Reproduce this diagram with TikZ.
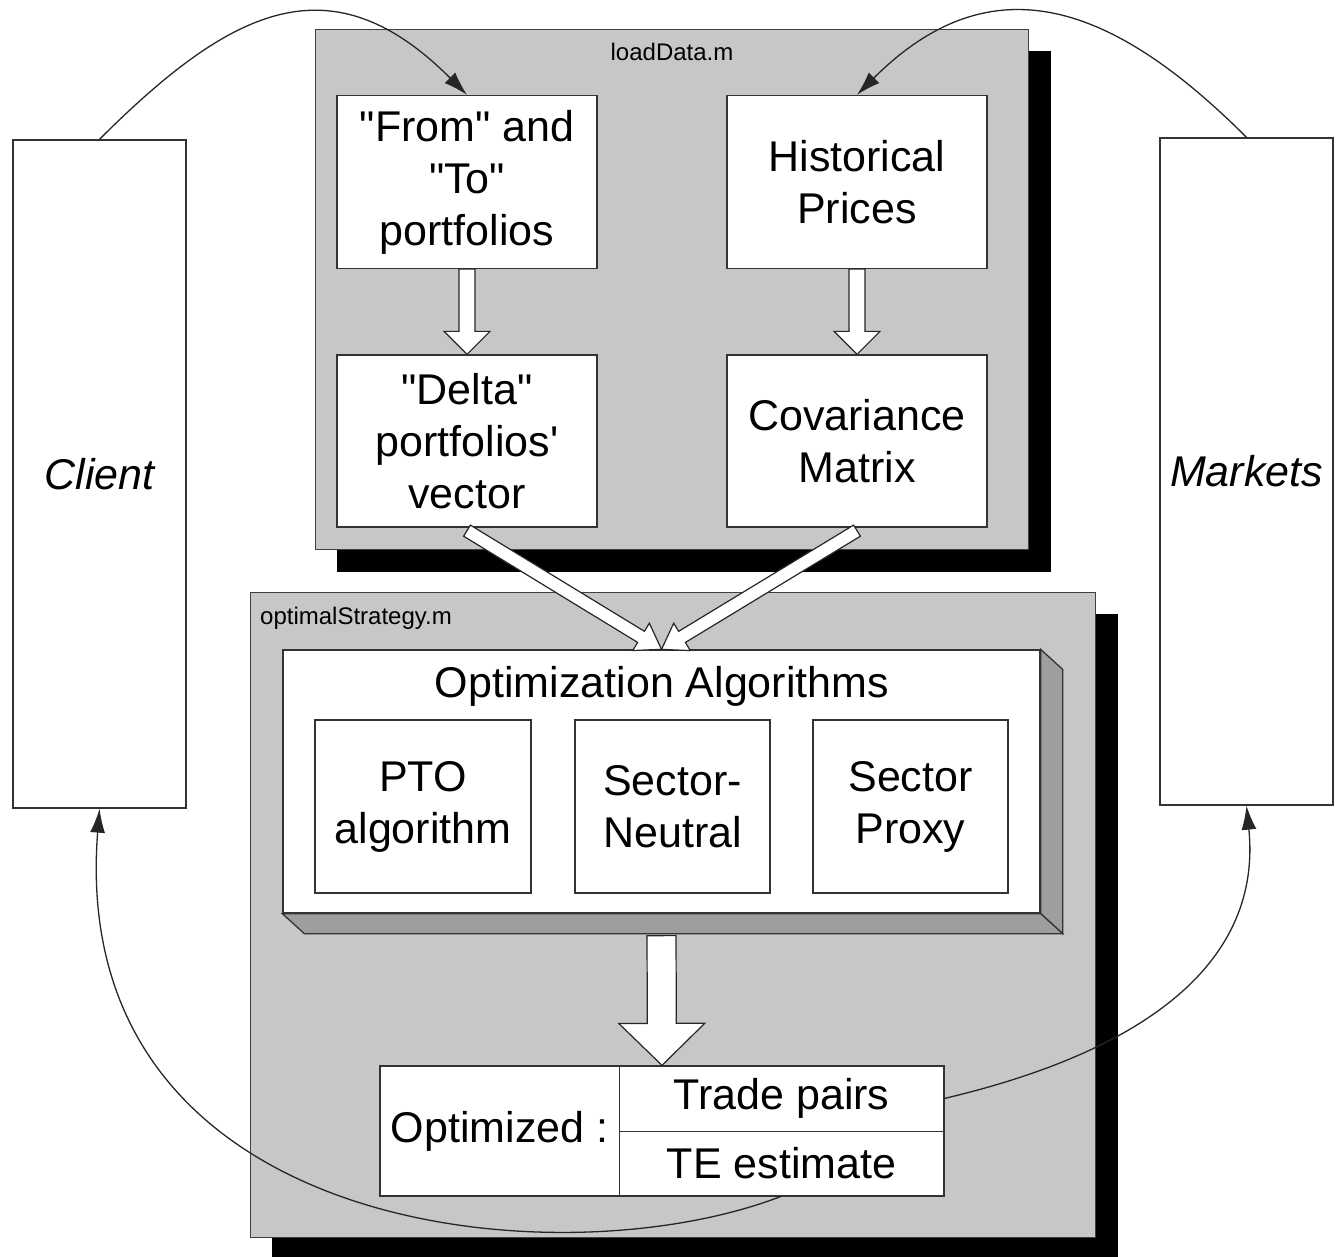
\documentclass[tikz,border=0pt]{standalone}
\usepackage{fontspec}
\newfontfamily\arialf{Liberation Sans}
\usetikzlibrary{calc,arrows.meta,backgrounds}

% white block arrow from #1 to #2: shaft half width #3, head half width #4, head length #5
\newcommand\blockarrow[5]{%
  \coordinate (ba-h) at ($(#2)!#5!(#1)$);
  \draw[barrow] ($(#1)!#3!90:(#2)$) -- ($(ba-h)!#3!90:(#2)$) -- ($(ba-h)!#4!90:(#2)$)
    -- (#2) -- ($(ba-h)!#4!-90:(#2)$) -- ($(ba-h)!#3!-90:(#2)$) -- ($(#1)!#3!-90:(#2)$) -- cycle;
}

\begin{document}
\begin{tikzpicture}[x=1pt,y=-1pt,
  panel/.style={draw=black!75, line width=1pt, fill=black!22, inner sep=0pt},
  box/.style={draw=black!80, line width=1.3pt, fill=white, inner sep=0pt, align=center,
    font=\arialf\fontsize{43}{52}\selectfont},
  txt/.style={inner sep=0pt, align=center, font=\arialf\fontsize{43}{52}\selectfont},
  small/.style={inner sep=0pt, font=\arialf\fontsize{24}{28}\selectfont},
  side/.style={draw=black!80, line width=1.3pt, fill=black!38, line join=miter},
  flow/.style={draw=black!85, line width=1.3pt, -{Latex[length=24pt,width=15pt]}},
  barrow/.style={draw=black!85, line width=1.2pt, fill=white, line join=miter},
]
\useasboundingbox (0,0) rectangle (1341,1257);

% the two script panels with their drop shadows
\node[panel, minimum width=713pt, minimum height=519pt] (load) at (671.5,289.5) {};
\node[panel, minimum width=845pt, minimum height=645pt] (strat) at (672.5,914.5) {};
\begin{scope}[on background layer]
  \fill[black] ($(load.north west)+(22,22)$) rectangle ($(load.south east)+(22,22)$);
  \fill[black] ($(strat.north west)+(22,22)$) rectangle ($(strat.south east)+(22,22)$);
\end{scope}
\node[small] (loadlbl) at (672,52) {loadData.m};
\node[small, anchor=west] (stratlbl) at (260,618) {optimalStrategy.m};

% actors
\node[box, minimum width=173pt, minimum height=668pt, font=\arialf\itshape\fontsize{43}{52}\selectfont] (client) at (99.5,474) {Client};
\node[box, minimum width=173pt, minimum height=667pt, font=\arialf\itshape\fontsize{43}{52}\selectfont] (markets) at (1246.5,471.5) {Markets};

% data loading
\node[box, minimum width=260pt, minimum height=173pt] (from) at (467,182) {"From" and\\"To"\\portfolios};
\node[box, minimum width=260pt, minimum height=173pt] (hist) at (857,182) {Historical\\Prices};
\node[box, minimum width=260pt, minimum height=172pt] (delta) at (467,441) {"Delta"\\portfolios'\\vector};
\node[box, minimum width=260pt, minimum height=172pt] (cov) at (857,441) {Covariance\\Matrix};

% optimization block (3D slab)
\node[box, minimum width=757pt, minimum height=263pt] (opt) at (661.5,781.5) {};
\draw[side] (opt.north east) -- ($(opt.north east)+(22,20)$) -- ($(opt.south east)+(22,20)$) -- (opt.south east) -- cycle;
\draw[side] (opt.south west) -- (opt.south east) -- ($(opt.south east)+(22,20)$) -- ($(opt.south west)+(22,20)$) -- cycle;
\node[txt] (opttitle) at (662,686) {Optimization Algorithms};
\node[box, minimum width=216pt, minimum height=173pt] (pto) at (423,806.5) {PTO\\algorithm};
\node[box, minimum width=195pt, minimum height=173pt] (sn) at (672.5,806.5) {Sector-\\Neutral};
\node[box, minimum width=195pt, minimum height=173pt] (sp) at (910.5,806.5) {Sector\\Proxy};

% result table
\node[box, minimum width=564pt, minimum height=130pt] (result) at (662,1131) {};
\node[txt, minimum width=239pt, minimum height=130pt] (optd) at (499.5,1131) {Optimized :};
\node[txt, minimum width=325pt, minimum height=65pt] (trade) at (781.5,1098.5) {Trade pairs};
\node[txt, minimum width=325pt, minimum height=65pt] (te) at (781.5,1163.5) {TE estimate};
\draw[draw=black!80, line width=1.3pt] (optd.north east) -- (optd.south east);
\draw[draw=black!80, line width=1.3pt] (trade.south west) -- (trade.south east);

% block arrows
\blockarrow{from.south}{delta.north}{8pt}{23pt}{23pt}
\blockarrow{hist.south}{cov.north}{8pt}{23pt}{23pt}
\coordinate (dtail) at ($(delta.south)+(0,3)$);
\coordinate (ctail) at ($(cov.south)+(0,3)$);
\blockarrow{dtail}{opt.north}{6.5pt}{16pt}{24pt}
\blockarrow{ctail}{opt.north}{6.5pt}{16pt}{24pt}
\coordinate (optbase) at ($(opt.south)+(0,22)$);
\blockarrow{optbase}{result.north}{14.5pt}{43pt}{42pt}

% exchanges with client and markets
\draw[flow] (client.north) .. controls +(45:190pt) and +(135:190pt) .. (from.north);
\draw[flow] (markets.north) .. controls +(135:190pt) and +(45:190pt) .. (hist.north);
\draw[flow] (te.south) .. controls (560,1282) and (66,1236) .. (client.south);
\draw[flow] (trade.east) .. controls (1150,1050) and (1262,960) .. (markets.south);
\end{tikzpicture}
\end{document}
